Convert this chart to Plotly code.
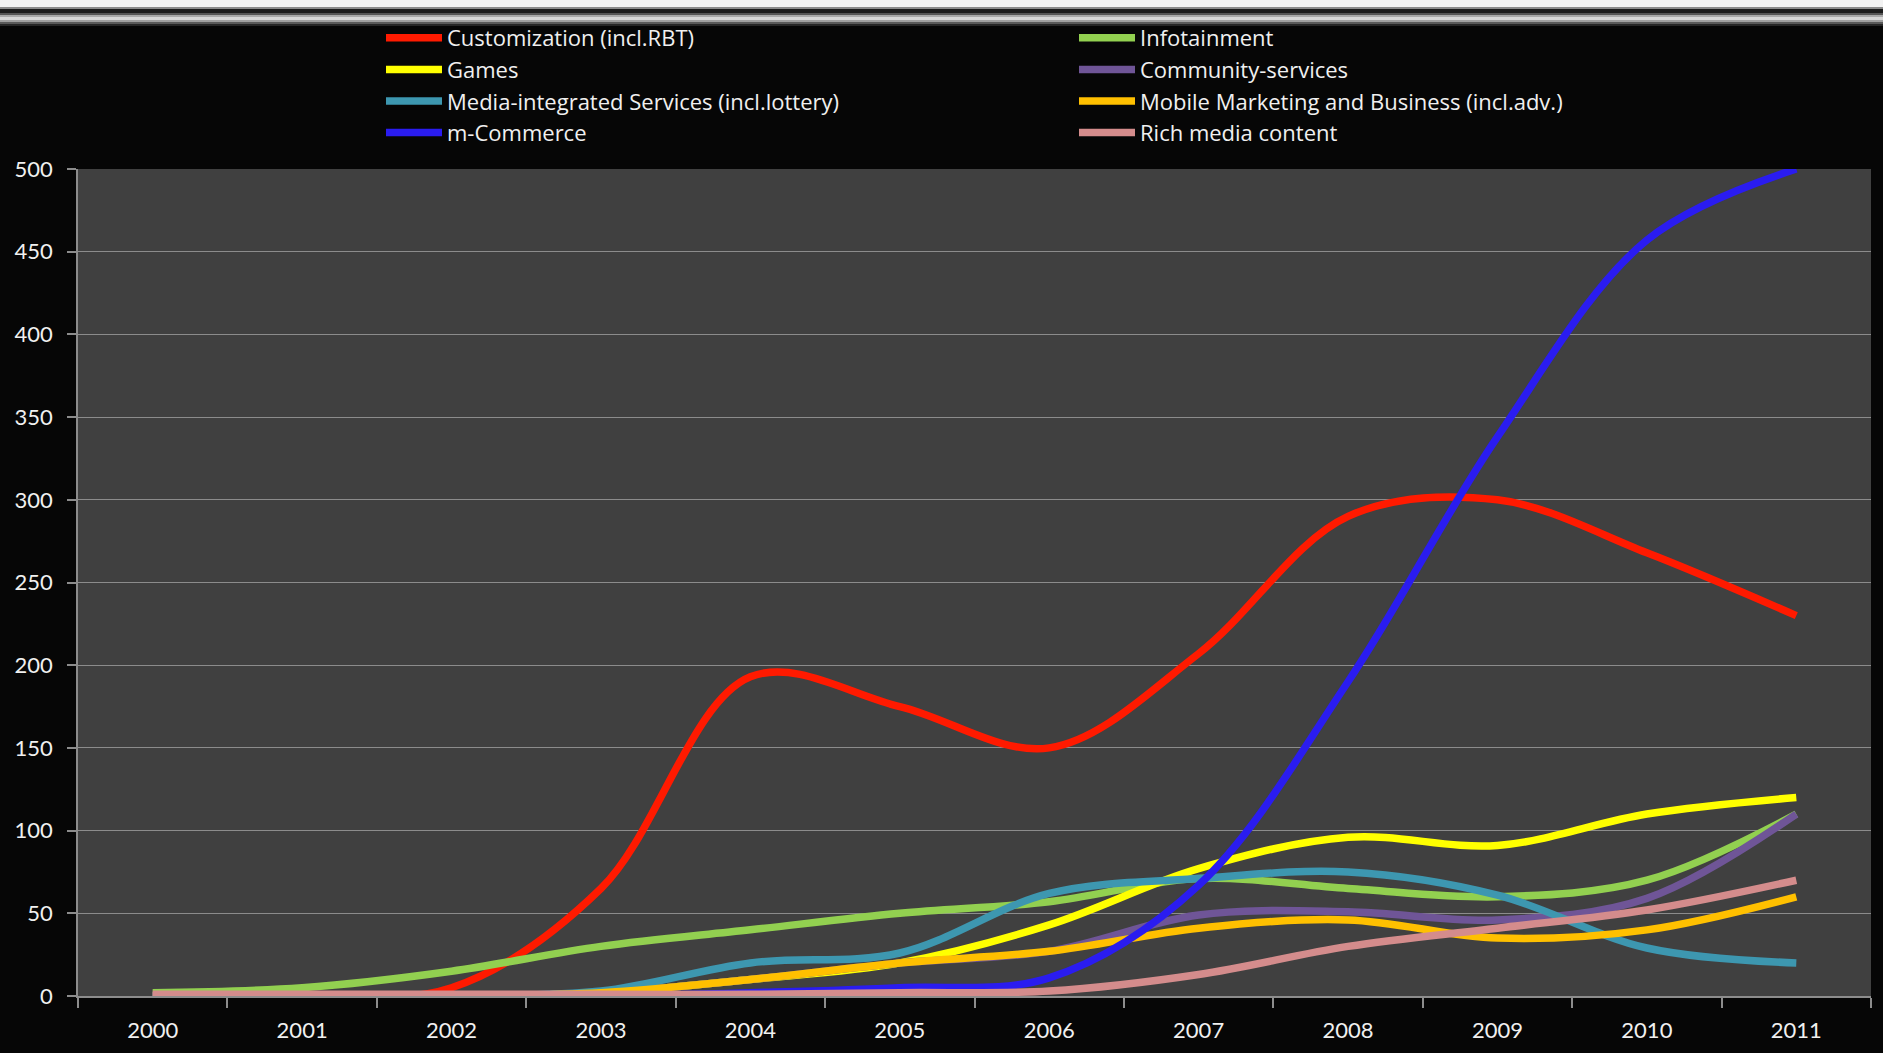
import plotly.graph_objects as go

years = ["2000", "2001", "2002", "2003", "2004", "2005", "2006", "2007", "2008", "2009", "2010", "2011"]
customization = [0, 0, 5, 65, 193, 175, 150, 207, 290, 300, 268, 230]
infotainment = [2, 5, 15, 30, 40, 50, 57, 71, 65, 60, 70, 110]
games = [0, 0, 0, 2, 10, 20, 43, 77, 96, 91, 110, 120]
community = [0, 0, 0, 2, 10, 20, 27, 49, 51, 46, 59, 110]
media = [0, 0, 0, 3, 20, 26, 62, 71, 75, 61, 29, 20]
mobile = [0, 0, 0, 2, 10, 20, 27, 41, 46, 35, 40, 60]
mcommerce = [0, 0, 0, 0, 2, 5, 11, 67, 190, 338, 457, 500]
richmedia = [1, 1, 1, 1, 1, 2, 3, 13, 30, 41, 52, 70]

series = [
    ("Customization (incl.RBT)", customization, "#ff1a00"),
    ("Infotainment", infotainment, "#92d050"),
    ("Games", games, "#ffff00"),
    ("Community-services", community, "#6f5597"),
    ("Media-integrated Services (incl.lottery)", media, "#3d97b0"),
    ("Mobile Marketing and Business (incl.adv.)", mobile, "#ffc000"),
    ("m-Commerce", mcommerce, "#2a1cf0"),
    ("Rich media content", richmedia, "#d48c8c"),
]

xs = list(range(len(years)))
FONT = "Lato, 'Open Sans', sans-serif"
LFONT = "'Open Sans', Lato, sans-serif"
W, H = 1883, 1053
ML, MR, MT, MB = 78, 12, 169, 57
PH = H - MT - MB

fig = go.Figure()
for name, vals, col in series:
    fig.add_trace(go.Scatter(
        x=xs, y=vals, name=name, mode="lines",
        line=dict(color=col, width=7.5, shape="spline", smoothing=1),
    ))

def py(px):
    return (H - MB - px) / PH

bands = [(0, 7, "#f2f2f2"), (7, 9, "#8a8a8a"), (9, 13, "#1c1c1c"), (13, 15, "#555555"),
         (15, 17, "#a8a8a8"), (17, 20, "#d6d6d6"), (20, 22, "#a0a0a0"), (22, 24, "#5a5a5a"),
         (24, 26, "#262626")]
shapes = []
for a, b, c in bands:
    shapes.append(dict(type="rect", xref="paper", yref="paper", x0=-0.1, x1=1.1,
                       y0=py(b), y1=py(a), fillcolor=c, line=dict(width=0), layer="below"))

grid = "#8c8c8c"
fig.update_layout(
    width=W, height=H,
    margin=dict(l=ML, r=MR, t=MT, b=MB, autoexpand=False),
    paper_bgcolor="#060606",
    plot_bgcolor="#404040",
    font=dict(family=FONT, size=22, color="#f0f0f0"),
    shapes=shapes,
    showlegend=True,
    legend=dict(
        orientation="h", x=(381 - ML) / (W - ML - MR), xanchor="left",
        y=py(17), yanchor="top",
        entrywidth=622, entrywidthmode="pixels",
        itemwidth=56, bgcolor="rgba(0,0,0,0)",
        font=dict(family=LFONT, size=22, color="#f0f0f0"),
        traceorder="normal",
    ),
    xaxis=dict(
        range=[-0.5, 11.5], tickmode="array", tickvals=xs, ticktext=years,
        showgrid=False, zeroline=False, showline=True, linecolor=grid, linewidth=1.5,
        ticks="", ticklabelstandoff=14, automargin=False,
        tickfont=dict(family=FONT, size=22, color="#f0f0f0"),
        minor=dict(tickmode="array", tickvals=[i - 0.5 for i in range(13)],
                   ticks="outside", ticklen=10, tickcolor=grid, tickwidth=1.5, showgrid=False),
    ),
    yaxis=dict(
        range=[0, 500], tickmode="linear", tick0=0, dtick=50,
        showgrid=True, gridcolor=grid, gridwidth=1.3, zeroline=False,
        showline=True, linecolor=grid, linewidth=1.5,
        ticks="outside", ticklen=9, tickcolor=grid, tickwidth=1.5,
        ticklabelstandoff=10, automargin=False,
        tickfont=dict(family=FONT, size=22, color="#f0f0f0"),
    ),
)

fig.write_html(
    "out.html",
    config={"displayModeBar": False},
    post_script="document.body.style.margin='0';document.body.style.background='#060606';document.body.style.overflow='hidden';",
)
